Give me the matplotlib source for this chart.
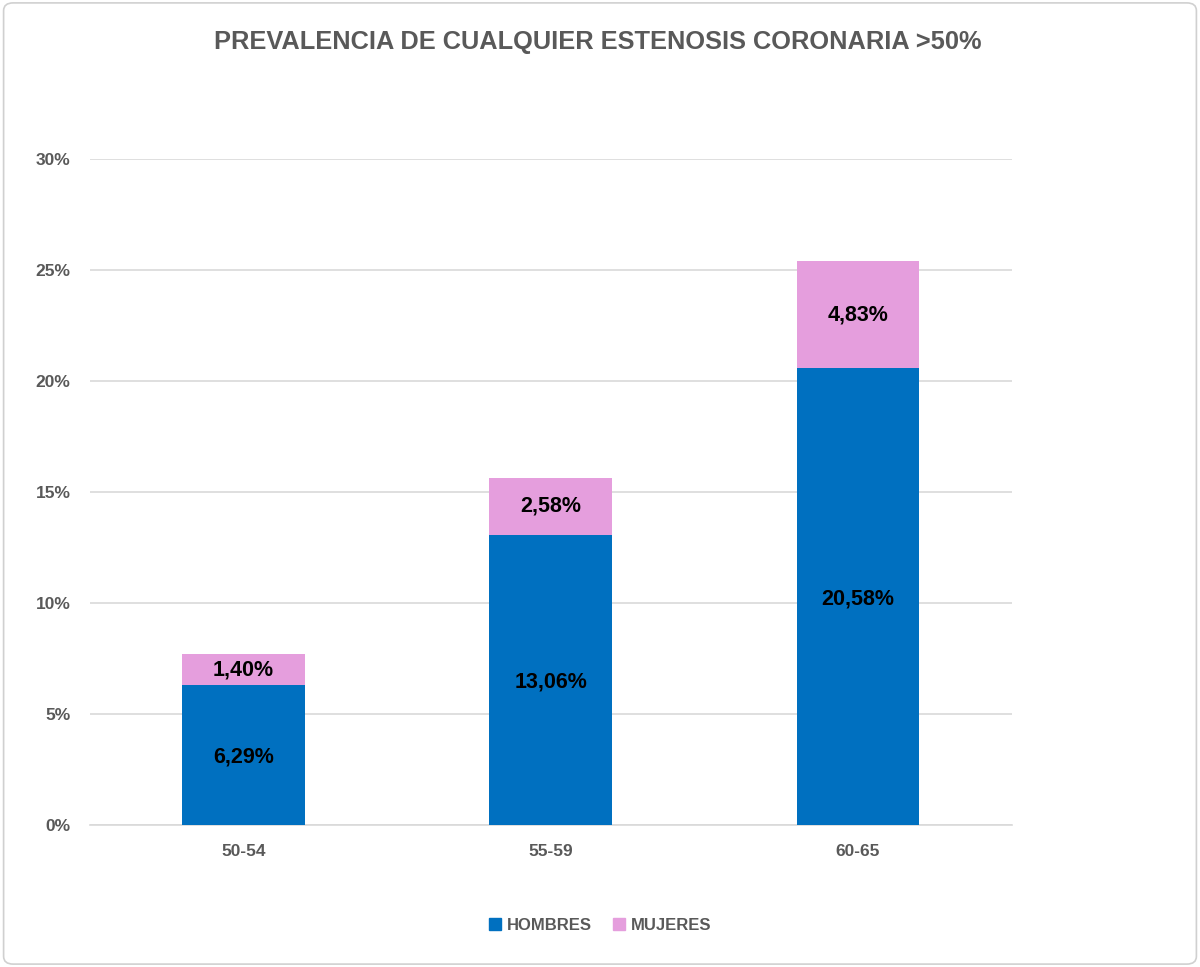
import matplotlib
matplotlib.use("Agg")
import matplotlib.pyplot as plt
from matplotlib.patches import FancyBboxPatch
from matplotlib.lines import Line2D
from matplotlib.ticker import FuncFormatter

categories = ["50-54", "55-59", "60-65"]
hombres = [6.29, 13.06, 20.58]
mujeres = [1.40, 2.58, 4.83]
yticks = [0, 5, 10, 15, 20, 25, 30]

blue = "#0070C0"
pink = "#E59EDD"
grey = "#595959"

plt.rcParams['font.family'] = ['Liberation Sans', 'DejaVu Sans']

fig = plt.figure(figsize=(12, 9.67), dpi=100)
ax = fig.add_axes([0.075, 0.1468, 0.768, 0.6888])

x = list(range(len(categories)))
b1 = ax.bar(x, hombres, width=0.4, color=blue, zorder=3)
b2 = ax.bar(x, mujeres, width=0.4, bottom=hombres, color=pink, zorder=3)

def fmt(v):
    return f"{v:.2f}".replace(".", ",") + "%"

for i in x:
    ax.text(i, hombres[i] / 2 - 0.1, fmt(hombres[i]), ha="center", va="center",
            fontsize=15.5, fontweight="bold", color="black", zorder=4)
    ax.text(i, hombres[i] + mujeres[i] / 2, fmt(mujeres[i]), ha="center", va="center",
            fontsize=15.5, fontweight="bold", color="black", zorder=4)

ax.set_xlim(-0.5, 2.5)
ax.set_ylim(0, 30)
ax.set_yticks(yticks)
ax.yaxis.set_major_formatter(FuncFormatter(lambda v, p: f"{int(v)}%"))
ax.set_xticks(x)
ax.set_xticklabels(categories)
ax.grid(axis="y", color="#D9D9D9", linewidth=1.2, zorder=0)
for s in ["top", "right", "left"]:
    ax.spines[s].set_visible(False)
ax.spines["bottom"].set_color("#D9D9D9")
ax.spines["bottom"].set_linewidth(1.2)
ax.tick_params(axis="both", length=0, labelsize=12.5, labelcolor=grey)
ax.tick_params(axis="y", pad=14)
ax.tick_params(axis="x", pad=14)
for lbl in ax.get_xticklabels() + ax.get_yticklabels():
    lbl.set_fontweight("bold")

fig.text(0.498, 0.957, "PREVALENCIA DE CUALQUIER ESTENOSIS CORONARIA >50%",
         ha="center", va="center", fontsize=18.3, fontweight="bold", color=grey)

handles = [Line2D([], [], marker="s", linestyle="none", markersize=8.5, color=blue),
           Line2D([], [], marker="s", linestyle="none", markersize=8.5, color=pink)]
leg = fig.legend(handles, ["HOMBRES", "MUJERES"], loc="center", bbox_to_anchor=(0.5, 0.043),
                 ncol=2, frameon=False, handlelength=0.7, handletextpad=0.35, columnspacing=1.3,
                 prop={"weight": "bold", "size": 12})
for t in leg.get_texts():
    t.set_color(grey)

border = FancyBboxPatch((0.003, 0.003), 0.994, 0.994, boxstyle="round,pad=0,rounding_size=0.008",
                        transform=fig.transFigure, fill=False, edgecolor="#D0D0D0", linewidth=1.2)
fig.patches.append(border)

fig.savefig("out.png", dpi=100)
